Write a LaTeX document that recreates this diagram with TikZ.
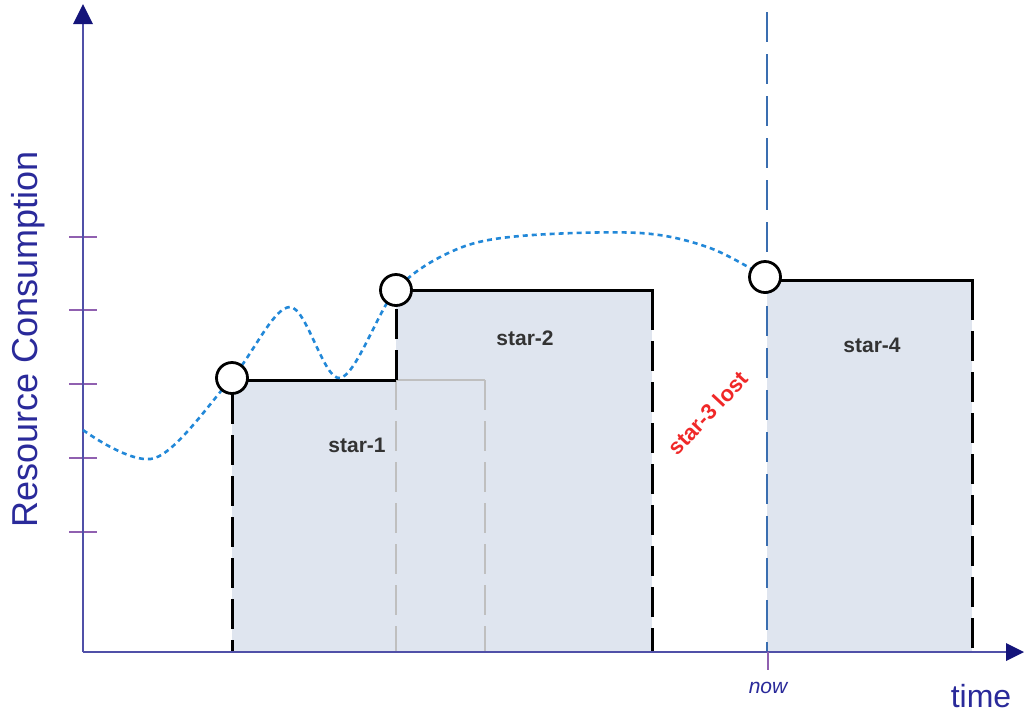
\documentclass[tikz,border=0pt]{standalone}
\usepackage{fontspec}
\setmainfont{Liberation Sans}
\usetikzlibrary{arrows.meta}
\definecolor{axisc}{HTML}{5050A8}
\definecolor{arrowc}{HTML}{14147A}
\definecolor{tickc}{HTML}{9060B0}
\definecolor{fillc}{HTML}{DFE5EF}
\definecolor{curvec}{HTML}{2288D8}
\definecolor{nowc}{HTML}{3A6EB0}
\definecolor{labc}{HTML}{2A2A9A}
\definecolor{starc}{HTML}{333333}
\definecolor{lostc}{HTML}{F02828}
\tikzset{
  axis/.style={draw=axisc, line width=1.6pt},
  tick/.style={draw=tickc, line width=1.6pt},
  boxedge/.style={draw=black, line width=3pt},
  dashedge/.style={draw=black, line width=3pt, dash pattern=on 30pt off 11pt},
  grayedge/.style={draw=black!25, line width=2.2pt},
  graydash/.style={draw=black!25, line width=2.2pt, dash pattern=on 30pt off 11pt},
  knot/.style={circle, draw=black, fill=white, line width=2.8pt, minimum size=31pt, inner sep=0pt},
  starlab/.style={font=\fontsize{21}{24}\selectfont\bfseries, text=starc},
}
\begin{document}
\begin{tikzpicture}[x=1pt,y=-1pt]
\useasboundingbox (0,0) rectangle (1024,716);
% fills
\fill[fillc] (232,380) rectangle (396,652);
\fill[fillc] (396,290) rectangle (652,652);
\fill[fillc] (767,280) rectangle (972,652);
% ticks
\foreach \yy in {237,310,384,458,532} \draw[tick] (69,\yy) -- (97,\yy);
\coordinate (nt) at (768,670);
% gray old rectangle
\draw[grayedge] (396,380) -- (485,380);
\draw[graydash] (485,380) -- (485,652);
\draw[graydash] (396,380) -- (396,652);
% coordinates
\coordinate (o) at (83,652);
% boxes
\draw[dashedge] (232,394) -- (232,652);
\draw[boxedge] (232,380) -- (396,380);
\draw[dashedge] (396,380) -- (396,304);
\draw[boxedge] (396,290) -- (652,290) -- (652,300);
\draw[dashedge] (652,300) -- (652,652);
\draw[boxedge] (780,280) -- (972,280) -- (972,290);
\draw[dashedge] (972,290) -- (972,652);
% now line
\draw[draw=nowc, line width=2pt, dash pattern=on 30pt off 12pt] (767,12) -- (767,652);
% axes
\draw[axis] (o) -- (83,20);
\draw[axis] (o) -- (1008,652);
\fill[arrowc] (83,4) -- (73,24) -- (93,24) -- cycle;
\fill[arrowc] (1024,652) -- (1006,643) -- (1006,661) -- cycle;
\draw[tick, line width=1.2pt] (768,652) -- (nt);
% curve
\draw[curvec, line width=2.6pt, dash pattern=on 5pt off 4pt]
  plot[smooth, tension=0.55] coordinates {(83,430) (155,458) (232,378) (290,307) (340,378) (396,290) (455,250) (520,236) (640,233) (710,248) (765,277)};
% knots
\node[knot] (c1) at (232,378) {};
\node[knot] (c2) at (396,290) {};
\node[knot] (c4) at (765,277) {};
% labels
\node[starlab] (s1) at (357,445) {star-1};
\node[starlab] (s2) at (525,338) {star-2};
\node[starlab] (s4) at (872,345) {star-4};
\node[font=\fontsize{22}{24}\selectfont\bfseries, text=lostc, rotate=47] (s3) at (708,413) {star-3 lost};
\node[font=\fontsize{36}{40}\selectfont, text=labc, rotate=90] (yl) at (28,339) {Resource Consumption};
\node[font=\fontsize{32}{36}\selectfont, text=labc] (xl) at (981,696) {time};
\node[font=\fontsize{21}{24}\selectfont\itshape, text=labc] (nl) at (768,688) {now};
\end{tikzpicture}
\end{document}
